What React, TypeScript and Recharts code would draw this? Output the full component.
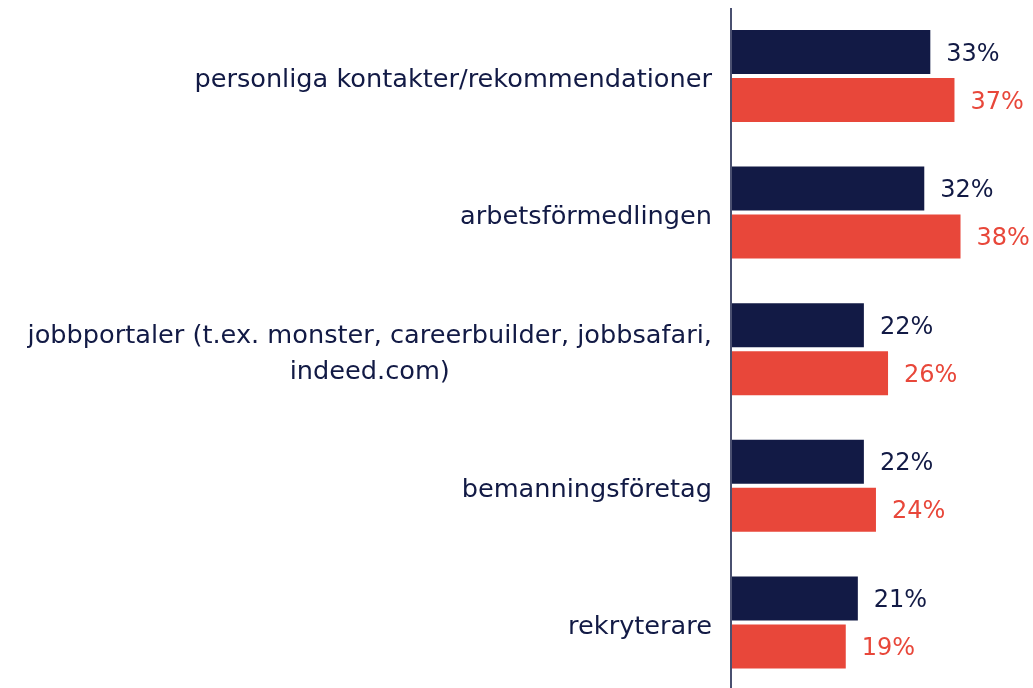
import React from "react";
import { BarChart, Bar, XAxis, YAxis, LabelList } from "recharts";

const categories = [
  "personliga kontakter/rekommendationer",
  "arbetsförmedlingen",
  "jobbportaler (t.ex. monster, careerbuilder, jobbsafari,\nindeed.com)",
  "bemanningsföretag",
  "rekryterare",
];
const seriesA = [33, 32, 22, 22, 21];
const seriesB = [37, 38, 26, 24, 19];

const NAVY = "#121a45";
const RED = "#e8473a";
const FONT = "'DejaVu Sans', sans-serif";
const TICK_SIZE = 25.6;
const VALUE_SIZE = 24;

const data = categories.map((c, i) => ({ name: c, a: seriesA[i], b: seriesB[i] }));

let ctx: CanvasRenderingContext2D | null = null;
function measure(t: string) {
  if (!ctx) {
    const c = document.createElement("canvas");
    ctx = c.getContext("2d");
  }
  if (!ctx) return t.length * TICK_SIZE * 0.55;
  ctx.font = `${TICK_SIZE}px 'DejaVu Sans', sans-serif`;
  return ctx.measureText(t).width;
}

const Tick = (props: any) => {
  const { y, payload } = props;
  const lines: string[] = String(payload.value).split("\n");
  const right = 704;
  const widths = lines.map(measure);
  const maxW = Math.max(...widths);
  const cx = right - maxW / 2;
  const lh = 36;
  const y0 = y + 2 - ((lines.length - 1) * lh) / 2;
  return (
    <g>
      {lines.map((l, i) => (
        <text
          key={i}
          x={cx}
          y={y0 + i * lh}
          textAnchor="middle"
          dominantBaseline="central"
          fill={NAVY}
          fontSize={TICK_SIZE}
          fontFamily={FONT}
        >
          {l}
        </text>
      ))}
    </g>
  );
};

export default function App() {
  return (
    <div style={{ fontFamily: FONT, position: "fixed", left: 8, top: 8 }}>
      <BarChart
        width={1025}
        height={683}
        data={data}
        layout="vertical"
        margin={{ top: 0, right: 0, bottom: 0, left: 0 }}
        barGap={4}
      >
        <XAxis type="number" domain={[0, 50]} hide />
        <YAxis
          type="category"
          dataKey="name"
          width={723}
          tick={<Tick />}
          tickLine={false}
          axisLine={{ stroke: "#4a5070", strokeWidth: 2 }}
          interval={0}
        />
        <Bar dataKey="a" fill={NAVY} barSize={44} isAnimationActive={false}>
          <LabelList
            dataKey="a"
            position="right"
            offset={16}
            formatter={(v: any) => `${v}%`}
            fill={NAVY}
            fontSize={VALUE_SIZE}
            fontFamily={FONT}
          />
        </Bar>
        <Bar dataKey="b" fill={RED} barSize={44} isAnimationActive={false}>
          <LabelList
            dataKey="b"
            position="right"
            offset={16}
            formatter={(v: any) => `${v}%`}
            fill={RED}
            fontSize={VALUE_SIZE}
            fontFamily={FONT}
          />
        </Bar>
      </BarChart>
    </div>
  );
}
